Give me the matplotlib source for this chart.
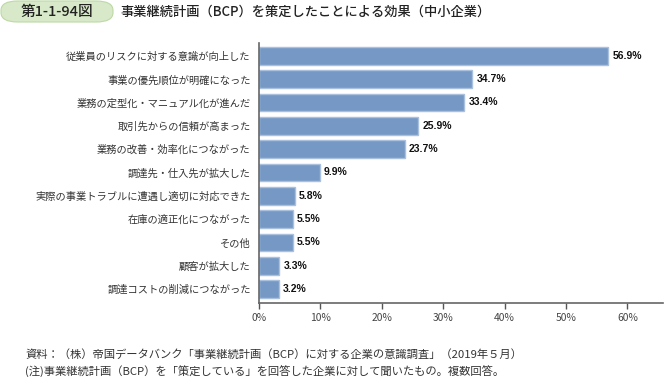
import matplotlib
matplotlib.use("Agg")
import matplotlib.pyplot as plt
from matplotlib.patches import FancyBboxPatch

plt.rcParams['font.family'] = ['Noto Sans CJK JP', 'DejaVu Sans']

categories = ["従業員のリスクに対する意識が向上した", "事業の優先順位が明確になった",
              "業務の定型化・マニュアル化が進んだ", "取引先からの信頼が高まった",
              "業務の改善・効率化につながった", "調達先・仕入先が拡大した",
              "実際の事業トラブルに遭遇し適切に対応できた", "在庫の適正化につながった",
              "その他", "顧客が拡大した", "調達コストの削減につながった"]
values = [56.9, 34.7, 33.4, 25.9, 23.7, 9.9, 5.8, 5.5, 5.5, 3.3, 3.2]
xticks = [0, 10, 20, 30, 40, 50, 60]
xticklabels = ["0%", "10%", "20%", "30%", "40%", "50%", "60%"]

W, H = 664, 377
fig = plt.figure(figsize=(W/100, H/100), dpi=100)
ax = fig.add_axes([259/W, 1-303/H, (663-259)/W, (303-43)/H])

y = list(range(len(categories)))
ax.barh(y, values, height=0.76, color="#7599c4", edgecolor="#a9c1de", linewidth=1.0)
for yi, v in zip(y, values):
    ax.text(v + 0.7, yi, f"{v}%", va="center", ha="left", fontsize=7.5,
            fontweight="bold", color="#111111", family=["Liberation Sans", "DejaVu Sans"])

ax.set_ylim(10.6, -0.55)
ax.set_xlim(0, 65.8)
ax.set_yticks(y)
ax.set_yticklabels(categories, fontsize=7.4, color="#333333")
ax.tick_params(axis="y", length=0, pad=6)
ax.set_xticks(xticks)
ax.set_xticklabels(xticklabels, fontsize=7.4, color="#444444")
ax.tick_params(axis="x", length=4, width=1.0, color="#555555", pad=3)
for s in ["top", "right"]:
    ax.spines[s].set_visible(False)
ax.spines["left"].set_color("#666666")
ax.spines["bottom"].set_color("#666666")
ax.spines["left"].set_linewidth(1.2)
ax.spines["bottom"].set_linewidth(1.2)

# title box
box = FancyBboxPatch((1/W, 1-22/H), 112/W, 21/H, boxstyle="round,pad=0,rounding_size=0.025",
                     transform=fig.transFigure, facecolor="#d8e9c9", edgecolor="#bcd9a4",
                     linewidth=0.8)
fig.patches.append(box)
fig.text(57/W, 1-12/H, "第1-1-94図", ha="center", va="center", fontsize=10.5,
         fontweight="medium", color="#222222")
fig.text(120/W, 1-12/H, "事業継続計画（BCP）を策定したことによる効果（中小企業）",
         ha="left", va="center", fontsize=9.5, fontweight="medium", color="#222222")

fig.text(25/W, 1-355/H, "資料：（株）帝国データバンク「事業継続計画（BCP）に対する企業の意識調査」（2019年５月）",
         ha="left", va="center", fontsize=8.15, color="#333333")
fig.text(25/W, 1-372/H, "(注)事業継続計画（BCP）を「策定している」を回答した企業に対して聞いたもの。複数回答。",
         ha="left", va="center", fontsize=8.15, color="#333333")

fig.savefig("out.png", dpi=100)
